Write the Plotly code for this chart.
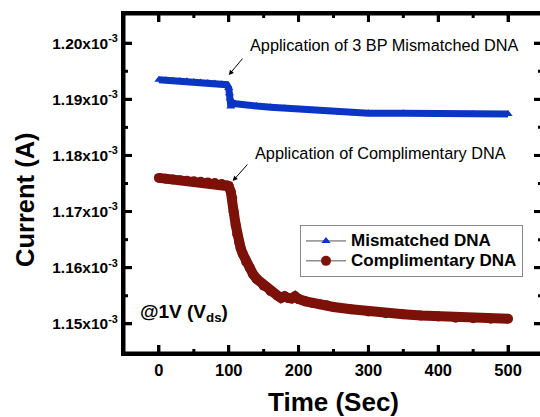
import plotly.graph_objects as go

# Data (time in seconds, current in A)
t_mis = [0, 10, 20, 30, 40, 50, 60, 70, 80, 90, 97, 100, 101, 102, 103, 104, 110, 120, 140, 160,
         180, 200, 220, 240, 260, 280, 300, 350, 400, 450, 500]
i_mis = [1.1935, 1.1934, 1.1933, 1.19325, 1.1932, 1.1931, 1.1930, 1.1929, 1.1928, 1.1927, 1.1926,
         1.1920, 1.1911, 1.1902, 1.1887, 1.1893, 1.1892, 1.1890, 1.1888, 1.1886,
         1.1884, 1.1882, 1.1880, 1.1878, 1.1876, 1.1875, 1.1875, 1.1875, 1.1874, 1.1874, 1.1874]
i_mis = [v * 1e-3 for v in i_mis]

t_comp = [0, 10, 20, 30, 40, 50, 60, 70, 80, 90, 97, 100, 103, 105, 107, 110, 112, 115, 117, 120,
          125, 130, 135, 140, 150, 160, 170, 175, 180, 185, 190, 195, 200, 210, 220, 230, 240,
          250, 275, 300, 325, 350, 375, 400, 425, 450, 475, 500]
i_comp = [1.1760, 1.17585, 1.1757, 1.1756, 1.1755, 1.1754, 1.1753, 1.1752, 1.1751, 1.1749, 1.1747,
          1.1745, 1.1735, 1.1724, 1.1700, 1.1676, 1.1660, 1.1645, 1.1635, 1.1625,
          1.1610, 1.1600, 1.1588, 1.1580, 1.1568, 1.1558, 1.1550, 1.1546, 1.1549, 1.1546, 1.1545,
          1.1549, 1.1544, 1.1540, 1.1537, 1.1535, 1.1533,
          1.1530, 1.1526, 1.1522, 1.1519, 1.1517, 1.1515, 1.1513, 1.1511, 1.1510, 1.1509, 1.1509]
i_comp = [v * 1e-3 for v in i_comp]

y_ticks = [1.15e-3, 1.16e-3, 1.17e-3, 1.18e-3, 1.19e-3, 1.20e-3]
y_ticktext = ["1.15x10<sup>-3</sup>", "1.16x10<sup>-3</sup>", "1.17x10<sup>-3</sup>",
              "1.18x10<sup>-3</sup>", "1.19x10<sup>-3</sup>", "1.20x10<sup>-3</sup>"]
y_minor = [1.155e-3, 1.165e-3, 1.175e-3, 1.185e-3, 1.195e-3]
x_ticks = [0, 100, 200, 300, 400, 500]
x_minor = [50, 150, 250, 350, 450]

BLUE = "#0b35c4"
RED = "#7b1109"
FONT = "Liberation Sans, Arial, sans-serif"

XR = [-50, 548.6]
YR = [1.1448e-3, 1.2052e-3]
PW, PH = 418, 339          # plot area size in px
MAJ, MIN = 8, 4            # tick lengths in px
TW = 3                     # tick width in px

fig = go.Figure()
fig.add_trace(go.Scatter(x=t_mis, y=i_mis, mode="lines+markers", showlegend=False,
                         line=dict(color=BLUE, width=7),
                         marker=dict(symbol="triangle-up", size=8, color=BLUE)))
fig.add_trace(go.Scatter(x=t_comp, y=i_comp, mode="lines+markers", showlegend=False,
                         line=dict(color=RED, width=10),
                         marker=dict(symbol="circle", size=10, color=RED)))
# legend entries
fig.add_trace(go.Scatter(x=[None], y=[None], mode="lines+markers",
                         name="<span style='font-size:17px'><b>Mismatched DNA</b></span>",
                         line=dict(color="#555555", width=1),
                         marker=dict(symbol="triangle-up", size=8, color=BLUE)))
fig.add_trace(go.Scatter(x=[None], y=[None], mode="lines+markers",
                         name="<span style='font-size:17px'><b>Complimentary DNA</b></span>",
                         line=dict(color="#555555", width=1),
                         marker=dict(symbol="circle", size=10, color=RED)))

axis_common = dict(showline=True, linewidth=3, linecolor="black", mirror="ticks",
                   ticks="inside", ticklen=MAJ, tickwidth=3, tickcolor="black",
                   showgrid=False, zeroline=False)

fig.update_layout(
    xaxis=dict(range=XR, tickvals=x_ticks,
               tickfont=dict(family=FONT, size=16.5, color="black", weight="bold"),
               **axis_common),
    yaxis=dict(range=YR, tickvals=y_ticks, ticktext=y_ticktext,
               tickfont=dict(family=FONT, size=15.5, color="black", weight="bold"),
               **axis_common),
)

annots = [
    dict(x=100, y=1.19431e-3, ax=15, ay=-18, text="", showarrow=True, arrowhead=2,
         arrowsize=1, arrowwidth=1, arrowcolor="black"),
    dict(x=105.7, y=1.17544e-3, ax=16, ay=-18, text="", showarrow=True, arrowhead=2,
         arrowsize=1, arrowwidth=1, arrowcolor="black"),
    dict(x=(248 - 124) / PW, y=(353 - 45) / PH, xref="paper", yref="paper", xanchor="left",
         yanchor="middle", showarrow=False, text="Application of 3 BP Mismatched DNA",
         font=dict(family=FONT, size=16.3, color="black")),
    dict(x=(253 - 124) / PW, y=(353 - 153) / PH, xref="paper", yref="paper", xanchor="left",
         yanchor="middle", showarrow=False, text="Application of Complimentary DNA",
         font=dict(family=FONT, size=16.3, color="black")),
    dict(x=(138 - 124) / PW, y=(353 - 313) / PH, xref="paper", yref="paper", xanchor="left",
         yanchor="middle", showarrow=False, text="<b>@1V (V<sub>ds</sub>)</b>",
         font=dict(family=FONT, size=19, color="black")),
    # axis titles
    dict(x=0.5, y=(353 - 402) / PH, xref="paper", yref="paper", xanchor="center",
         yanchor="middle", showarrow=False, text="<b>Time (Sec)</b>",
         font=dict(family=FONT, size=26, color="black")),
    dict(x=(25 - 124) / PW, y=(353 - 200) / PH, xref="paper", yref="paper", xanchor="center",
         yanchor="middle", showarrow=False, text="<b>Current (A)</b>", textangle=-90,
         font=dict(family=FONT, size=25.5, color="black")),
]

# frame
shapes = [dict(type="rect", xref="paper", yref="paper", x0=0, x1=1, y0=0, y1=1,
               line=dict(color="black", width=3), layer="above")]


# inward tick marks on all four sides, derived from the tick lists and axis ranges
def px_x(v):
    return (v - XR[0]) / (XR[1] - XR[0])


def px_y(v):
    return (v - YR[0]) / (YR[1] - YR[0])


tick_style = dict(type="rect", xref="paper", yref="paper", fillcolor="black",
                  line=dict(width=0), layer="above")
hw_x = TW / 2 / PW
hw_y = TW / 2 / PH
for vals, ln in ((x_ticks, MAJ), (x_minor, MIN)):
    for v in vals:
        p = px_x(v)
        shapes.append(dict(x0=p - hw_x, x1=p + hw_x, y0=0, y1=ln / PH, **tick_style))
        shapes.append(dict(x0=p - hw_x, x1=p + hw_x, y0=1 - ln / PH, y1=1, **tick_style))
for vals, ln in ((y_ticks, MAJ), (y_minor, MIN)):
    for v in vals:
        p = px_y(v)
        shapes.append(dict(y0=p - hw_y, y1=p + hw_y, x0=0, x1=ln / PW, **tick_style))
        shapes.append(dict(y0=p - hw_y, y1=p + hw_y, x0=1 - ln / PW, x1=1, **tick_style))

fig.update_layout(
    width=544, height=417,
    margin=dict(l=124, r=2, t=14, b=64, autoexpand=False),
    paper_bgcolor="white", plot_bgcolor="white",
    annotations=annots,
    shapes=shapes,
    legend=dict(x=(300 - 124) / PW, y=(353 - 225) / PH, xanchor="left", yanchor="top",
                bgcolor="white", bordercolor="#888888", borderwidth=1,
                font=dict(family=FONT, size=13, color="black"),
                tracegroupgap=0, itemwidth=40),
)

fig.write_html("out.html", config={"displayModeBar": False},
               post_script="document.body.style.margin='0';document.body.style.padding='0';"
                           "document.body.style.overflow='hidden';"
                           "document.documentElement.style.overflow='hidden';")
